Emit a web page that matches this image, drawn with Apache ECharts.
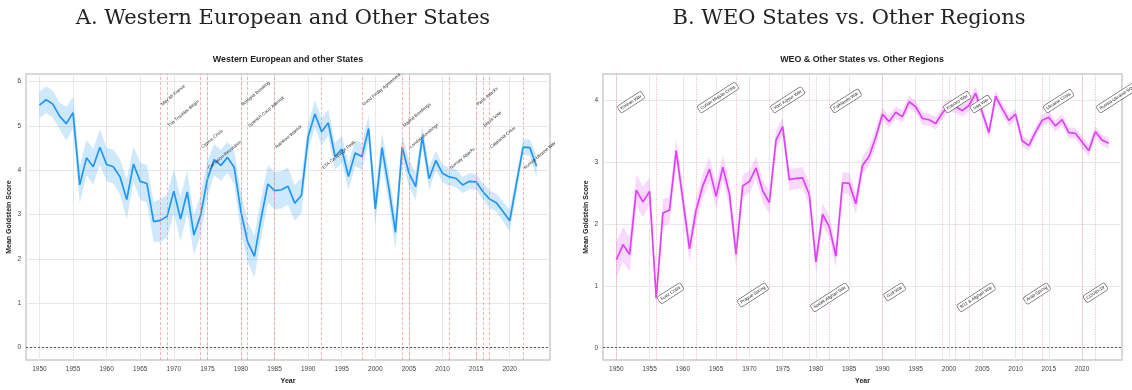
<!DOCTYPE html>
<html>
<head>
<meta charset="utf-8">
<title>Goldstein scores: WEO states</title>
<script src="https://cdn.jsdelivr.net/npm/echarts@6/dist/echarts.min.js"></script>
<style>
  html, body { margin: 0; padding: 0; background: #fff; }
  #main { width: 1132px; height: 390px; }
</style>
</head>
<body>
<div id="main"></div>
<script>
// years on the x axis
var years = [1950, 1951, 1952, 1953, 1954, 1955, 1956, 1957, 1958, 1959,
  1960, 1961, 1962, 1963, 1964, 1965, 1966, 1967, 1968, 1969,
  1970, 1971, 1972, 1973, 1974, 1975, 1976, 1977, 1978, 1979,
  1980, 1981, 1982, 1983, 1984, 1985, 1986, 1987, 1988, 1989,
  1990, 1991, 1992, 1993, 1994, 1995, 1996, 1997, 1998, 1999,
  2000, 2001, 2002, 2003, 2004, 2005, 2006, 2007, 2008, 2009,
  2010, 2011, 2012, 2013, 2014, 2015, 2016, 2017, 2018, 2019,
  2020, 2021, 2022, 2023, 2024];

// A. WEO mean score and half width of the band
var weoMean = [5.47, 5.59, 5.49, 5.22, 5.05, 5.30, 3.67, 4.28, 4.08, 4.52,
  4.13, 4.08, 3.85, 3.34, 4.14, 3.75, 3.70, 2.84, 2.87, 2.96,
  3.53, 2.90, 3.51, 2.54, 2.99, 3.80, 4.24, 4.11, 4.29, 4.06,
  3.06, 2.38, 2.06, 2.92, 3.69, 3.54, 3.56, 3.64, 3.26, 3.43,
  4.76, 5.27, 4.87, 5.07, 4.31, 4.48, 3.86, 4.39, 4.31, 4.94,
  3.13, 4.51, 3.61, 2.60, 4.52, 3.94, 3.63, 4.76, 3.81, 4.22,
  3.93, 3.85, 3.82, 3.67, 3.75, 3.74, 3.52, 3.35, 3.27, 3.07,
  2.86, 3.70, 4.52, 4.51, 4.09];
var weoCi = [0.30, 0.30, 0.30, 0.30, 0.38, 0.35, 0.42, 0.40, 0.40, 0.40,
  0.38, 0.38, 0.40, 0.45, 0.40, 0.42, 0.42, 0.45, 0.48, 0.48,
  0.50, 0.50, 0.48, 0.45, 0.45, 0.40, 0.35, 0.35, 0.35, 0.38,
  0.45, 0.45, 0.48, 0.45, 0.42, 0.42, 0.42, 0.42, 0.40, 0.40,
  0.30, 0.30, 0.30, 0.30, 0.30, 0.30, 0.30, 0.30, 0.30, 0.30,
  0.35, 0.35, 0.35, 0.38, 0.30, 0.30, 0.30, 0.25, 0.25, 0.22,
  0.20, 0.20, 0.20, 0.18, 0.18, 0.18, 0.18, 0.20, 0.20, 0.22,
  0.25, 0.20, 0.18, 0.18, 0.25];

// B. WEO states vs other regions
var otherMean = [1.42, 1.67, 1.51, 2.55, 2.36, 2.53, 0.80, 2.18, 2.23, 3.19,
  2.40, 1.60, 2.23, 2.62, 2.89, 2.45, 2.92, 2.49, 1.51, 2.62,
  2.69, 2.91, 2.54, 2.35, 3.36, 3.58, 2.72, 2.74, 2.75, 2.48,
  1.39, 2.16, 1.96, 1.48, 2.67, 2.66, 2.33, 2.95, 3.10, 3.41,
  3.78, 3.66, 3.81, 3.74, 3.98, 3.90, 3.71, 3.69, 3.63, 3.80,
  3.92, 3.90, 3.84, 3.92, 4.12, 3.81, 3.48, 4.07, 3.87, 3.68,
  3.78, 3.35, 3.27, 3.49, 3.68, 3.73, 3.59, 3.69, 3.48, 3.47,
  3.33, 3.19, 3.50, 3.36, 3.31];
var otherCi = [0.30, 0.28, 0.28, 0.25, 0.25, 0.22, 0.15, 0.22, 0.22, 0.20,
  0.20, 0.20, 0.20, 0.20, 0.20, 0.20, 0.20, 0.20, 0.20, 0.18,
  0.18, 0.18, 0.18, 0.18, 0.15, 0.15, 0.17, 0.17, 0.17, 0.18,
  0.18, 0.18, 0.18, 0.18, 0.17, 0.17, 0.17, 0.15, 0.15, 0.15,
  0.10, 0.10, 0.10, 0.10, 0.10, 0.10, 0.10, 0.10, 0.10, 0.10,
  0.10, 0.10, 0.10, 0.10, 0.10, 0.10, 0.10, 0.10, 0.10, 0.10,
  0.09, 0.09, 0.09, 0.09, 0.09, 0.09, 0.09, 0.09, 0.09, 0.09,
  0.10, 0.10, 0.09, 0.09, 0.09];

// events, panel A
var weoEventYears = [1968, 1969, 1974, 1975, 1980, 1981, 1985, 1992,
  1998, 2004, 2005, 2011, 2015, 2016, 2017, 2022];
var weoEventNames = ['May 68 France', 'The Troubles Begin', 'Cyprus Crisis', 'Carnation Revolution',
  'Bologna Bombing', 'Spanish Coup Attempt', 'Rainbow Warrior', 'ETA Campaign Peak',
  'Good Friday Agreement', 'Madrid Bombings', 'London Bombings', 'Norway Attacks',
  'Paris Attacks', 'Brexit Vote', 'Catalonia Crisis', 'Russia-Ukraine War'];
var weoEventLevels = [5.43, 4.95, 4.47, 4.0, 5.43, 4.95, 4.47, 4.0,
  5.43, 4.95, 4.47, 4.0, 5.43, 4.95, 4.47, 4.0];

// events, panel B
var otherEventYears = [1950, 1956, 1962, 1968, 1973, 1979, 1982, 1990,
  1999, 2001, 2003, 2011, 2014, 2020, 2022];
var otherEventNames = ['Korean War', 'Suez Crisis', 'Cuban Missile Crisis', 'Prague Spring',
  'Yom Kippur War', 'Soviet-Afghan War', 'Falklands War', 'Gulf War',
  'Kosovo War', '9/11 & Afghan War', 'Iraq War', 'Arab Spring',
  'Ukraine Crisis', 'COVID-19', 'Russia-Ukraine War'];
var otherEventLevels = [3.8, 1.05, 3.8, 1.05, 3.8, 1.05, 3.8, 1.05,
  3.8, 1.05, 3.8, 1.05, 3.8, 1.05, 3.8];

var xTicks = [1950, 1955, 1960, 1965, 1970, 1975, 1980, 1985, 1990, 1995, 2000, 2005, 2010, 2015, 2020];
var weoYTicks = [0, 1, 2, 3, 4, 5, 6];
var otherYTicks = [0, 1, 2, 3, 4];

var SANS = '"Liberation Sans", Arial, sans-serif';
var SERIF = '"DejaVu Serif", serif';
var myChart = echarts.init(document.getElementById('main'), null, { renderer: 'canvas' });

var measureCtx = document.createElement('canvas').getContext('2d');
function textWidth(txt, size) {
  measureCtx.font = size + 'px ' + SANS;
  return measureCtx.measureText(txt).width;
}

function pairs(vals) {
  return years.map(function (y, i) { return [y, vals[i]]; });
}

function xAxisOpt(idx) {
  return {
    type: 'value', gridIndex: idx, min: 1948, max: 2026,
    name: 'Year', nameLocation: 'middle', nameGap: 16,
    nameTextStyle: { fontFamily: SANS, fontWeight: 'bold', fontSize: 7, color: '#222' },
    axisLine: { show: false },
    axisTick: { show: false, customValues: xTicks },
    axisLabel: { customValues: xTicks, fontFamily: SANS, fontSize: 6.5, color: '#444', margin: 6,
      formatter: function (v) { return String(v); } },
    splitLine: { show: true, lineStyle: { color: '#e8e8e8', width: 1 } }
  };
}

function yAxisOpt(idx, min, max, ticks) {
  return {
    type: 'value', gridIndex: idx, min: min, max: max,
    name: 'Mean Goldstein Score', nameLocation: 'middle', nameGap: 13,
    nameTextStyle: { fontFamily: SANS, fontWeight: 'bold', fontSize: 7, color: '#222' },
    axisLine: { show: false },
    axisTick: { show: false, customValues: ticks },
    axisLabel: { customValues: ticks, fontFamily: SANS, fontSize: 6.5, color: '#444', margin: 5 },
    splitLine: { show: true, lineStyle: { color: '#e8e8e8', width: 1 } }
  };
}

function bandSeries(idx, mean, ci, fill) {
  return {
    type: 'custom', xAxisIndex: idx, yAxisIndex: idx, silent: true, z: 1,
    data: [[years[0], mean[0]]],
    renderItem: function (params, api) {
      var pts = [];
      for (var i = 0; i < years.length; i++) pts.push(api.coord([years[i], mean[i] + ci[i]]));
      for (var j = years.length - 1; j >= 0; j--) pts.push(api.coord([years[j], mean[j] - ci[j]]));
      return { type: 'polygon', shape: { points: pts }, style: { fill: fill } };
    }
  };
}

function lineSeries(idx, mean, color, evYears, evType) {
  var marks = evYears.map(function (y) {
    return { xAxis: y, lineStyle: { color: '#f08080', width: 0.8, type: evType, opacity: 0.75 } };
  });
  marks.push({ yAxis: 0, lineStyle: { color: '#555', width: 1, type: [2, 2], opacity: 1 } });
  return {
    type: 'line', xAxisIndex: idx, yAxisIndex: idx, z: 3,
    data: pairs(mean), showSymbol: false, symbol: 'none',
    lineStyle: { color: color, width: 1.7 }, itemStyle: { color: color },
    markLine: { silent: true, symbol: 'none', label: { show: false }, data: marks }
  };
}

// panel A labels: plain rotated text, bottom of box at the level
function weoLabels() {
  var ang = 40 * Math.PI / 180, fs = 4.5;
  return {
    type: 'custom', xAxisIndex: 0, yAxisIndex: 0, silent: true, z: 5, clip: false,
    data: weoEventYears.map(function (y, i) { return [y, weoEventLevels[i]]; }),
    renderItem: function (params, api) {
      var i = params.dataIndex;
      var p = api.coord([weoEventYears[i], weoEventLevels[i]]);
      return {
        type: 'text', x: p[0] + fs * Math.sin(ang), y: p[1], rotation: ang,
        style: { text: weoEventNames[i], font: fs + 'px ' + SANS, fill: '#333',
          align: 'left', verticalAlign: 'bottom' }
      };
    }
  };
}

// panel B labels: boxed, top ones sit on the level, bottom ones hang from it
function otherLabels() {
  var ang = 33 * Math.PI / 180, fs = 4.5, padV = 1, padH = 2;
  return {
    type: 'custom', xAxisIndex: 1, yAxisIndex: 1, silent: true, z: 5, clip: false,
    data: otherEventYears.map(function (y, i) { return [y, otherEventLevels[i]]; }),
    renderItem: function (params, api) {
      var i = params.dataIndex;
      var name = otherEventNames[i];
      var p = api.coord([otherEventYears[i], otherEventLevels[i]]);
      var L = textWidth(name, fs) + 2 * padH;
      var h = fs + 1 + 2 * padV;
      var y = p[1];
      if (i % 2 === 1) y = p[1] + L * Math.sin(ang) + h * Math.cos(ang);
      return {
        type: 'text', x: p[0] + h * Math.sin(ang) + 1, y: y, rotation: ang,
        style: { text: name, font: fs + 'px ' + SANS, fill: '#222', lineHeight: fs + 1,
          align: 'left', verticalAlign: 'bottom',
          backgroundColor: '#fff', borderColor: '#555', borderWidth: 0.6, borderRadius: 1.5,
          padding: [padV, padH] }
      };
    }
  };
}

var option = {
  animation: false,
  backgroundColor: '#fff',
  graphic: [
    { type: 'text', x: 283, y: 19, style: { text: 'A. Western European and Other States',
      font: '21px ' + SERIF, fill: '#222', align: 'center', verticalAlign: 'middle' } },
    { type: 'text', x: 849, y: 19, style: { text: 'B. WEO States vs. Other Regions',
      font: '21px ' + SERIF, fill: '#222', align: 'center', verticalAlign: 'middle' } },
    { type: 'text', x: 288, y: 60, style: { text: 'Western European and other States',
      font: 'bold 8.9px ' + SANS, fill: '#222', align: 'center', verticalAlign: 'middle' } },
    { type: 'text', x: 862, y: 60, style: { text: 'WEO & Other States vs. Other Regions',
      font: 'bold 8.9px ' + SANS, fill: '#222', align: 'center', verticalAlign: 'middle' } }
  ],
  grid: [
    { left: 26, top: 74, width: 524, height: 293, show: true, borderColor: '#cccccc', borderWidth: 1.5, backgroundColor: '#fff' },
    { left: 603, top: 74, width: 519, height: 293, show: true, borderColor: '#cccccc', borderWidth: 1.5, backgroundColor: '#fff' }
  ],
  xAxis: [xAxisOpt(0), xAxisOpt(1)],
  yAxis: [yAxisOpt(0, -0.28, 6.17, weoYTicks), yAxisOpt(1, -0.2, 4.43, otherYTicks)],
  series: [
    bandSeries(0, weoMean, weoCi, 'rgba(33,150,243,0.22)'),
    lineSeries(0, weoMean, '#2196f3', weoEventYears, [3, 2]),
    weoLabels(),
    bandSeries(1, otherMean, otherCi, 'rgba(224,64,251,0.2)'),
    lineSeries(1, otherMean, '#e040fb', otherEventYears, [1, 1.5]),
    otherLabels()
  ]
};

myChart.setOption(option);
</script>
</body>
</html>
